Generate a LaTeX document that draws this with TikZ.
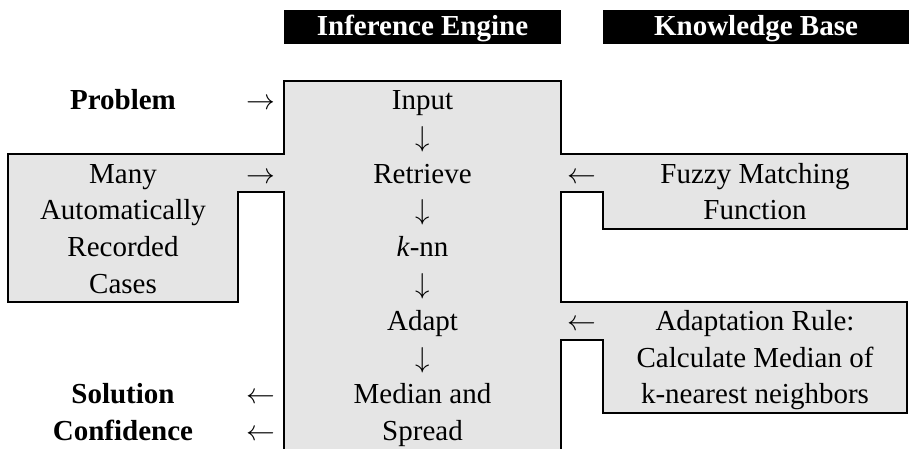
\documentclass[tikz,border=0pt]{standalone}
\usepackage{fontspec}
\setmainfont{Liberation Serif}
\definecolor{cellgray}{gray}{0.9}
\begin{document}
\begin{tikzpicture}[x=0.5pt,y=-0.5pt,
  txt/.style={anchor=base,inner sep=0pt,outer sep=0pt,font=\fontsize{14.5}{17}\selectfont},
  boldtxt/.style={txt,font=\fontsize{14.5}{17}\selectfont\bfseries},
  hdrtxt/.style={boldtxt,text=white},
  hdrbar/.style={fill=black,draw=none},
  outline/.style={draw=black,line width=0.95pt,line join=miter}]
\useasboundingbox (0,0) rectangle (909,449);

% column headers
\fill[hdrbar] (284,10) rectangle (561,44.5);
\fill[hdrbar] (603,10) rectangle (909,44.5);
\node[hdrtxt] (hdrIE) at (422.5,35.5) {Inference Engine};
\node[hdrtxt] (hdrKB) at (756,35.5) {Knowledge Base};

% shaded cells of the table
\fill[cellgray] (284,449) -- (284,192) -- (238,192) -- (238,302) -- (8,302)
  -- (8,154) -- (284,154) -- (284,81) -- (561,81) -- (561,154) -- (907,154)
  -- (907,229) -- (603,229) -- (603,192) -- (561,192) -- (561,302)
  -- (907,302) -- (907,413) -- (603,413) -- (603,340) -- (561,340)
  -- (561,449) -- cycle;
% outline of the shaded cells (open along the bottom)
\draw[outline] (284,449) -- (284,192) -- (238,192) -- (238,302) -- (8,302)
  -- (8,154) -- (284,154) -- (284,81) -- (561,81) -- (561,154) -- (907,154)
  -- (907,229) -- (603,229) -- (603,192) -- (561,192) -- (561,302)
  -- (907,302) -- (907,413) -- (603,413) -- (603,340) -- (561,340)
  -- (561,449);

% inference engine column
\node[txt] (input)   at (422.5,109.5) {Input};
\node[txt] (d1)      at (422.5,146.3) {$\downarrow$};
\node[txt] (retr)    at (422.5,183.1) {Retrieve};
\node[txt] (d2)      at (422.5,219.9) {$\downarrow$};
\node[txt] (knn)     at (422.5,256.7) {\textit{k}-nn};
\node[txt] (d3)      at (422.5,293.5) {$\downarrow$};
\node[txt] (adapt)   at (422.5,330.3) {Adapt};
\node[txt] (d4)      at (422.5,367.1) {$\downarrow$};
\node[txt] (median)  at (422.5,403.9) {Median and};
\node[txt] (spread)  at (422.5,440.7) {Spread};

% left side: inputs and outputs
\node[boldtxt] (problem) at (123,109.5) {Problem};
\node[txt] (pa)  at (261,109.5) {$\rightarrow$};
\node[txt] (c1)  at (123,183.1) {Many};
\node[txt] (c2)  at (123,219.9) {Automatically};
\node[txt] (c3)  at (123,256.7) {Recorded};
\node[txt] (c4)  at (123,293.5) {Cases};
\node[txt] (ca)  at (261,183.1) {$\rightarrow$};
\node[boldtxt] (sol)  at (123,403.9) {Solution};
\node[txt] (sa)  at (261,403.9) {$\leftarrow$};
\node[boldtxt] (conf) at (123,440.7) {Confidence};
\node[txt] (cfa) at (261,440.7) {$\leftarrow$};

% knowledge base side
\node[txt] (fa)  at (582,183.1) {$\leftarrow$};
\node[txt] (f1)  at (755,183.1) {Fuzzy Matching};
\node[txt] (f2)  at (755,219.9) {Function};
\node[txt] (aa)  at (582,330.3) {$\leftarrow$};
\node[txt] (a1)  at (755,330.3) {Adaptation Rule:};
\node[txt] (a2)  at (755,367.1) {Calculate Median of};
\node[txt] (a3)  at (755,403.9) {k-nearest neighbors};
\end{tikzpicture}
\end{document}
